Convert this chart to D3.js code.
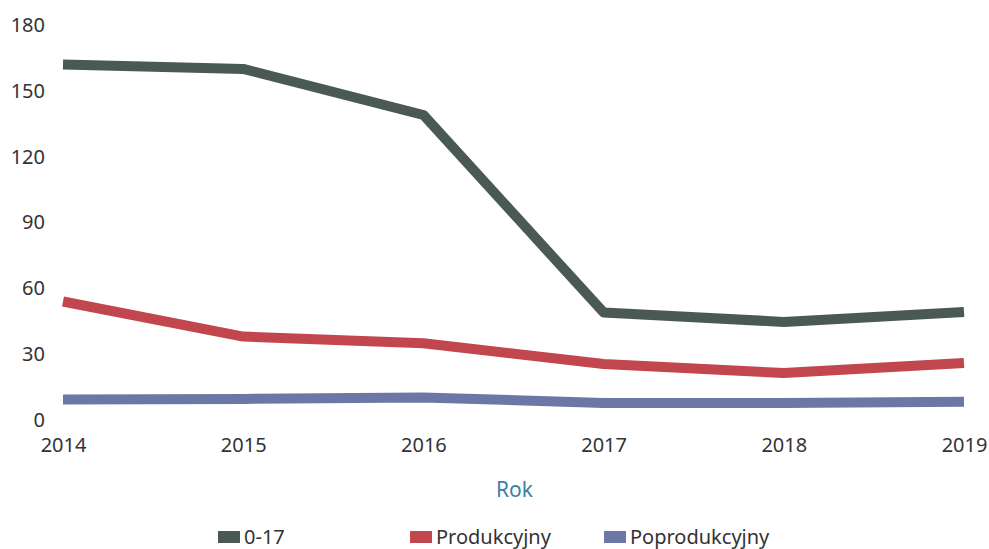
<!DOCTYPE html>
<html>
<head>
<meta charset="utf-8">
<script src="https://cdn.jsdelivr.net/npm/d3@7"></script>
<style>
  body { margin: 0; background: #fff; }
  svg text { font-family: "Noto Sans", "Open Sans", sans-serif; fill: #333; }
</style>
</head>
<body>
<svg></svg>
<script>
const years = [2014, 2015, 2016, 2017, 2018, 2019];
const yTicks = [0, 30, 60, 90, 120, 150, 180];
const seriesNames = ["0-17", "Produkcyjny", "Poprodukcyjny"];
const kids = [162, 160, 139, 49, 44.7, 49.2];
const working = [54, 38, 35, 25.5, 21.4, 26];
const retired = [9.3, 9.6, 10.3, 7.8, 7.8, 8.3];
const colors = ["#4b5955", "#c1464d", "#6b78a6"];

const totalW = 989, totalH = 549;
const margin = { top: 25, right: 25, bottom: 129, left: 63 };
const width = totalW - margin.left - margin.right;
const height = totalH - margin.top - margin.bottom;

const svg = d3.select("svg")
  .attr("width", totalW)
  .attr("height", totalH)
  .append("g")
  .attr("transform", `translate(${margin.left},${margin.top})`);

const x = d3.scalePoint().domain(years).range([0, width]);
const y = d3.scaleLinear().domain([0, 180]).range([height, 0]);

const series = [kids, working, retired].map((vals, i) => ({
  name: seriesNames[i],
  color: colors[i],
  values: years.map((yr, j) => ({ year: yr, value: vals[j] }))
}));

// y axis labels
const yAxis = svg.append("g")
  .call(d3.axisLeft(y).tickValues(yTicks).tickSize(0).tickPadding(18));
yAxis.select(".domain").remove();
yAxis.selectAll("text").attr("font-size", 20).attr("fill", "#333")
  .attr("font-family", "Noto Sans, sans-serif");

// x axis labels
const xAxis = svg.append("g")
  .attr("transform", `translate(0,${height})`)
  .call(d3.axisBottom(x).tickSize(0).tickPadding(18));
xAxis.select(".domain").remove();
xAxis.selectAll("text").attr("font-size", 20).attr("fill", "#333")
  .attr("font-family", "Noto Sans, sans-serif");

const line = d3.line()
  .x(d => x(d.year))
  .y(d => y(d.value));

svg.selectAll(".line").data(series)
  .join("path")
  .attr("class", "line")
  .attr("fill", "none")
  .attr("stroke", d => d.color)
  .attr("stroke-width", 10)
  .attr("stroke-linejoin", "round")
  .attr("stroke-linecap", "butt")
  .attr("d", d => line(d.values));

svg.append("text")
  .attr("x", width / 2 + 1)
  .attr("y", height + 77)
  .attr("text-anchor", "middle")
  .attr("font-size", 21)
  .style("fill", "#3d7fa3")
  .text("Rok");

const legendX = [155, 347, 541];
const legend = svg.append("g")
  .attr("transform", `translate(0,${height + 117})`);
const items = legend.selectAll("g").data(series)
  .join("g")
  .attr("transform", (d, i) => `translate(${legendX[i]},0)`);
items.append("rect")
  .attr("x", 0).attr("y", -6)
  .attr("width", 22).attr("height", 12)
  .attr("fill", d => d.color);
items.append("text")
  .attr("x", 26).attr("y", 0)
  .attr("dy", "0.35em")
  .attr("font-size", 20)
  .text(d => d.name);
</script>
</body>
</html>
